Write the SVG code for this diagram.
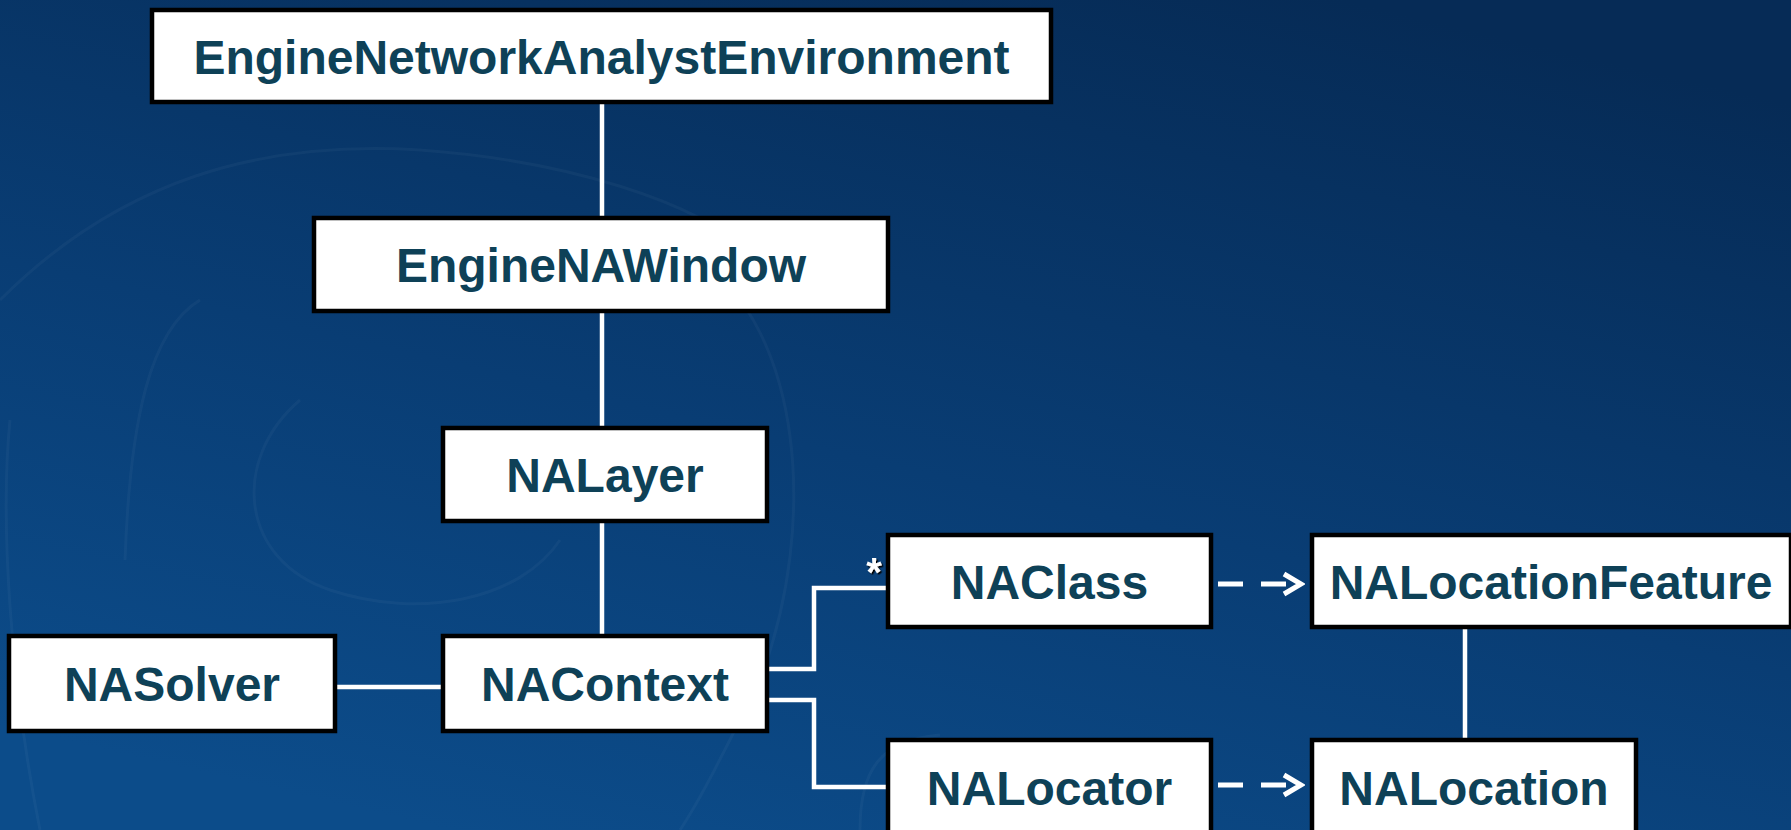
<svg xmlns="http://www.w3.org/2000/svg" width="1791" height="830" viewBox="0 0 1791 830">
  <defs>
    <linearGradient id="bg" x1="0.75" y1="0" x2="0.25" y2="1">
      <stop offset="0" stop-color="#062b56"/>
      <stop offset="0.55" stop-color="#093d74"/>
      <stop offset="1" stop-color="#0c4c8a"/>
    </linearGradient>
    <marker id="open-arrow" viewBox="0 0 26 26" refX="22" refY="13" markerWidth="26" markerHeight="26" markerUnits="userSpaceOnUse" orient="auto">
      <path d="M5,3 L22,13 L5,23" fill="none" stroke="#ffffff" stroke-width="5" stroke-linejoin="miter"/>
    </marker>
    <filter id="shadow" x="-50%" y="-50%" width="200%" height="200%">
      <feDropShadow dx="1.5" dy="1.5" stdDeviation="0.6" flood-color="#000000" flood-opacity="1"/>
    </filter>
  </defs>
  <style>
    .box { fill: #ffffff; stroke: #000000; stroke-width: 4.5; }
    .label { font-family: "Liberation Sans", Arial, sans-serif; font-weight: bold; font-size: 48px; fill: #0e4157; text-anchor: middle; }
    .link { fill: none; stroke: #ffffff; stroke-width: 4.5; }
    .dep { fill: none; stroke: #ffffff; stroke-width: 5; stroke-dasharray: 25 18; }
    .mult { font-family: "Liberation Sans", Arial, sans-serif; font-weight: bold; font-size: 40px; fill: #ffffff; }
    .wm { fill: none; stroke: #ffffff; stroke-opacity: 0.035; stroke-width: 3; }
  </style>

  <!-- background -->
  <rect x="0" y="0" width="1791" height="830" fill="url(#bg)"/>
  <g id="watermark">
    <path class="wm" d="M0,300 C120,180 260,140 420,150 C560,160 700,200 760,260"/>
    <path class="wm" d="M200,300 C150,330 130,420 125,560"/>
    <path class="wm" d="M300,400 C230,460 240,560 330,590 C420,620 520,600 560,540"/>
    <path class="wm" d="M10,420 C0,520 10,680 40,830"/>
    <path class="wm" d="M700,260 C800,330 820,520 760,680 C720,760 700,800 680,830"/>
    <path class="wm" d="M860,830 C860,770 880,740 940,735"/>
  </g>

  <!-- connectors -->
  <g id="connectors">
    <line class="link" x1="602" y1="104" x2="602" y2="216"/>
    <line class="link" x1="602" y1="313" x2="602" y2="426"/>
    <line class="link" x1="602" y1="523" x2="602" y2="634"/>
    <line class="link" x1="337" y1="687" x2="441" y2="687"/>
    <polyline class="link" points="769,669 814,669 814,588 886,588"/>
    <polyline class="link" points="769,700 814,700 814,787 886,787"/>
    <line class="link" x1="1465" y1="629" x2="1465" y2="738"/>
    <line class="dep" x1="1218" y1="584" x2="1301" y2="584" marker-end="url(#open-arrow)"/>
    <line class="dep" x1="1218" y1="785" x2="1301" y2="785" marker-end="url(#open-arrow)"/>
    <text class="mult" x="874" y="586" text-anchor="middle" filter="url(#shadow)">*</text>
  </g>

  <!-- nodes -->
  <g id="EngineNetworkAnalystEnvironment">
    <rect class="box" x="152" y="10" width="899" height="92"/>
    <text class="label" x="601.5" y="73.5">EngineNetworkAnalystEnvironment</text>
  </g>
  <g id="EngineNAWindow">
    <rect class="box" x="314" y="218" width="574" height="93"/>
    <text class="label" x="601" y="282">EngineNAWindow</text>
  </g>
  <g id="NALayer">
    <rect class="box" x="443" y="428" width="324" height="93"/>
    <text class="label" x="605" y="492">NALayer</text>
  </g>
  <g id="NASolver">
    <rect class="box" x="9" y="636" width="326" height="95"/>
    <text class="label" x="172" y="701">NASolver</text>
  </g>
  <g id="NAContext">
    <rect class="box" x="443" y="636" width="324" height="95"/>
    <text class="label" x="605" y="701">NAContext</text>
  </g>
  <g id="NAClass">
    <rect class="box" x="888" y="535" width="323" height="92"/>
    <text class="label" x="1049.5" y="598.5">NAClass</text>
  </g>
  <g id="NALocationFeature">
    <rect class="box" x="1312" y="535" width="479" height="92"/>
    <text class="label" x="1551" y="598.5">NALocationFeature</text>
  </g>
  <g id="NALocator">
    <rect class="box" x="888" y="740" width="323" height="96"/>
    <text class="label" x="1049.5" y="804.5">NALocator</text>
  </g>
  <g id="NALocation">
    <rect class="box" x="1312" y="740" width="324" height="96"/>
    <text class="label" x="1474" y="804.5">NALocation</text>
  </g>
</svg>
